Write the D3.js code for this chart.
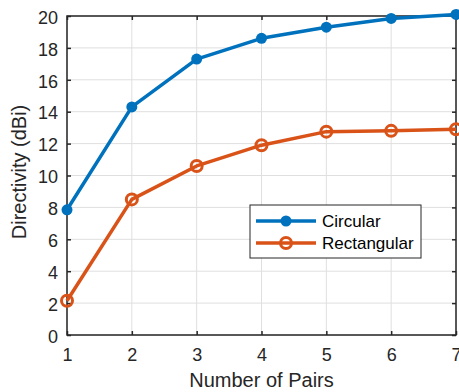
<!DOCTYPE html>
<html>
<head>
<meta charset="utf-8">
<script src="https://cdn.jsdelivr.net/npm/d3@7"></script>
<style>
  body { margin: 0; background: #fff; }
  svg { display: block; font-family: "Liberation Sans", Arial, sans-serif; }
</style>
</head>
<body>
<figure id="chart" style="margin:0"></figure>
<script>
const pairs = [1, 2, 3, 4, 5, 6, 7];
const circular = [7.85, 14.3, 17.3, 18.6, 19.3, 19.85, 20.1];
const rectangular = [2.15, 8.5, 10.6, 11.9, 12.75, 12.8, 12.9];
const yTicks = [0, 2, 4, 6, 8, 10, 12, 14, 16, 18, 20];
const seriesNames = ["Circular", "Rectangular"];

const width = 459, height = 392;
const margin = { left: 67, right: 3, top: 16, bottom: 57 };
const axisColor = "#262626";
const colors = ["#0072BD", "#D95319"];

const svg = d3.select("figure#chart")
  .append("svg")
  .attr("width", width)
  .attr("height", height);

const x = d3.scaleLinear().domain([1, 7]).range([margin.left, width - margin.right]);
const y = d3.scaleLinear().domain([0, 20]).range([height - margin.bottom, margin.top]);

// grid
const grid = svg.append("g").attr("stroke", "#dfdfdf").attr("stroke-width", 1);
grid.selectAll("line.gx").data(pairs).enter().append("line")
  .attr("x1", d => x(d)).attr("x2", d => x(d))
  .attr("y1", y(0)).attr("y2", y(20));
grid.selectAll("line.gy").data(yTicks).enter().append("line")
  .attr("x1", x(1)).attr("x2", x(7))
  .attr("y1", d => y(d)).attr("y2", d => y(d));

// box
svg.append("rect")
  .attr("x", x(1)).attr("y", y(20))
  .attr("width", x(7) - x(1)).attr("height", y(0) - y(20))
  .attr("fill", "none").attr("stroke", axisColor).attr("stroke-width", 1.5);

// axes with inward ticks
const fmt = d3.format("d");
const xAxis = d3.axisBottom(x).tickValues(pairs).tickFormat(fmt).tickSizeInner(-4).tickSizeOuter(0).tickPadding(13);
const yAxis = d3.axisLeft(y).tickValues(yTicks).tickFormat(fmt).tickSizeInner(-4).tickSizeOuter(0).tickPadding(9);
const gx = svg.append("g").attr("transform", "translate(0," + y(0) + ")").call(xAxis);
const gy = svg.append("g").attr("transform", "translate(" + x(1) + ",0)").call(yAxis);
svg.append("g").attr("transform", "translate(0," + y(20) + ")")
  .call(d3.axisTop(x).tickValues(pairs).tickFormat("").tickSizeInner(-4).tickSizeOuter(0));
svg.append("g").attr("transform", "translate(" + x(7) + ",0)")
  .call(d3.axisRight(y).tickValues(yTicks).tickFormat("").tickSizeInner(-4).tickSizeOuter(0));
svg.selectAll(".domain").remove();
svg.selectAll(".tick line").attr("stroke", axisColor).attr("stroke-width", 1.5);
[gx, gy].forEach(g => g.selectAll("text")
  .attr("fill", axisColor).style("font-size", "18px")
  .style("font-family", '"Liberation Sans", Arial, sans-serif'));
gy.selectAll("text").attr("dy", "0.4em");

// axis labels
svg.append("text")
  .attr("x", (x(1) + x(7)) / 2).attr("y", 387)
  .attr("text-anchor", "middle").attr("fill", axisColor)
  .style("font-size", "20px").text("Number of Pairs");
svg.append("text")
  .attr("transform", "translate(26,172) rotate(-90)")
  .attr("text-anchor", "middle").attr("fill", axisColor)
  .style("font-size", "20px").text("Directivity (dBi)");

// lines
const line = d3.line().x((d, i) => x(pairs[i])).y(d => y(d));
const allSeries = [circular, rectangular];
allSeries.forEach((s, k) => {
  svg.append("path").datum(s)
    .attr("d", line).attr("fill", "none")
    .attr("stroke", colors[k]).attr("stroke-width", 3.5)
    .attr("stroke-linejoin", "round");
});
svg.selectAll("circle.circ").data(circular).enter().append("circle")
  .attr("cx", (d, i) => x(pairs[i])).attr("cy", d => y(d))
  .attr("r", 5.5).attr("fill", colors[0]);
svg.selectAll("circle.rect").data(rectangular).enter().append("circle")
  .attr("cx", (d, i) => x(pairs[i])).attr("cy", d => y(d))
  .attr("r", 5.5).attr("fill", "none")
  .attr("stroke", colors[1]).attr("stroke-width", 3);

// legend
const legend = svg.append("g").attr("transform", "translate(250,205)");
legend.append("rect")
  .attr("width", 171).attr("height", 53)
  .attr("fill", "#fff").attr("stroke", axisColor).attr("stroke-width", 1);
seriesNames.forEach((name, k) => {
  const ly = 16 + k * 22;
  legend.append("line")
    .attr("x1", 6).attr("x2", 66).attr("y1", ly).attr("y2", ly)
    .attr("stroke", colors[k]).attr("stroke-width", 3.5);
  legend.append("circle")
    .attr("cx", 36).attr("cy", ly).attr("r", 5.5)
    .attr("fill", k === 0 ? colors[k] : "none")
    .attr("stroke", k === 0 ? "none" : colors[k]).attr("stroke-width", 3);
  legend.append("text")
    .attr("x", 72).attr("y", ly + 6)
    .attr("fill", "#000").style("font-size", "17px").text(name);
});
</script>
</body>
</html>
